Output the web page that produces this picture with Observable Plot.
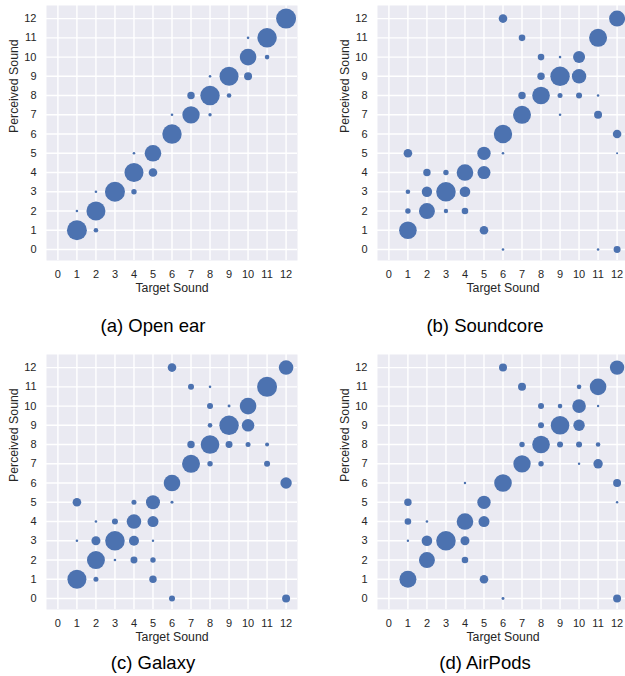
<!DOCTYPE html>
<html>
<head>
<meta charset="utf-8">
<script src="https://cdn.jsdelivr.net/npm/d3@7"></script>
<script src="https://cdn.jsdelivr.net/npm/@observablehq/plot@0.6"></script>
<style>
  html, body { margin: 0; padding: 0; background: #ffffff; }
  #root { position: relative; width: 625px; height: 676px; overflow: hidden; background: #fff; font-family: "Liberation Sans", Arial, Helvetica, sans-serif; }
  .panel { position: absolute; width: 310px; }
  .panel svg { max-width: none !important; }
  .caption { position: absolute; width: 240px; text-align: center; font-size: 18.5px; line-height: 1; color: #000; white-space: nowrap; }
</style>
</head>
<body>
<div id="root"></div>
<script>
// Tick values for both axes (sound index 0..12)
const ticks = [0,1,2,3,4,5,6,7,8,9,10,11,12];
const captions = ["(a) Open ear", "(b) Soundcore", "(c) Galaxy", "(d) AirPods"];
const xLabel = "Target Sound";
const yLabel = "Perceived Sound";

// [target, perceived, share of responses (%)]
const openEar = [
  [1,1,94],[1,2,1.6],[2,1,5],[2,2,85],[2,3,1.6],[3,3,94],[4,3,6.9],[4,4,85],[4,5,1.6],
  [5,4,17.4],[5,5,65],[6,6,89],[6,7,1.6],[7,7,71],[7,8,13],[8,7,2.7],[8,8,89],[8,9,1.6],
  [9,8,5],[9,9,85],[10,9,15],[10,10,65],[10,11,1.6],[11,10,5],[11,11,89],[12,12,94]
];
const soundcore = [
  [1,1,73],[1,2,6.9],[1,3,5],[1,5,17.4],[2,2,60],[2,3,25.5],[2,4,13],[3,2,4.6],[3,3,90],
  [3,4,6.9],[4,2,10.3],[4,3,26.5],[4,4,65],[5,1,17.4],[5,4,40],[5,5,42],[6,0,1.6],[6,5,1.6],
  [6,6,80],[6,12,17.4],[7,7,76],[7,8,13],[7,11,10.3],[8,8,73],[8,9,13],[8,10,10.3],[9,7,1.6],
  [9,8,5.9],[9,9,89],[9,10,1.6],[10,8,8.5],[10,9,49],[10,10,34],[11,0,1.6],[11,7,15],[11,8,1.6],
  [11,11,76],[12,0,11.5],[12,5,1],[12,6,17.4],[12,12,60]
];
const galaxy = [
  [1,1,85],[1,3,1.6],[1,5,17.4],[2,1,5.9],[2,2,76],[2,3,19],[2,4,1.6],[3,2,1.6],[3,3,90],
  [3,4,8.5],[4,2,11.5],[4,3,23.6],[4,4,50],[4,5,5.9],[5,1,13],[5,2,6.9],[5,3,1.4],[5,4,28.5],
  [5,5,46],[6,0,8.5],[6,5,2.1],[6,6,65],[6,12,17.4],[7,7,76],[7,8,13],[7,11,8.5],[8,7,6.9],
  [8,8,81.5],[8,9,5],[8,10,8.5],[8,11,1.6],[9,8,11.5],[9,9,89],[9,10,2.1],[10,8,5.9],[10,9,37],
  [10,10,65],[11,7,8.5],[11,8,3.8],[11,11,94],[12,0,15],[12,6,30.6],[12,12,50]
];
const airPods = [
  [1,1,68],[1,3,1.4],[1,4,10.3],[1,5,13],[2,2,60],[2,3,26.5],[2,4,1.6],[3,3,90],[4,2,10.3],
  [4,3,19],[4,4,65],[4,6,1.4],[5,1,17.4],[5,4,28.5],[5,5,42],[6,0,2.1],[6,6,73],[6,12,15],
  [7,7,71],[7,8,6.9],[7,11,15],[8,7,6.9],[8,8,73],[8,9,8.5],[8,10,8.5],[9,8,8.5],[9,9,81.5],
  [9,10,5],[10,7,1.4],[10,8,8.5],[10,9,30.6],[10,10,43.6],[10,11,5],[11,7,20.8],[11,8,5],
  [11,10,1.4],[11,11,65],[12,0,15],[12,5,1.4],[12,6,15],[12,12,49]
];

const datasets = [openEar, soundcore, galaxy, airPods];
const positions = [[0,0],[331,0],[0,349],[331,349]];
const captionCenters = [[153,317],[485,317],[153,654],[485,654]];

const root = document.getElementById("root");
const FONT = '"Liberation Sans", Arial, Helvetica, sans-serif';

datasets.forEach((data, i) => {
  const chart = Plot.plot({
    width: 310,
    height: 296,
    marginLeft: 46,
    marginRight: 13,
    marginTop: 5,
    marginBottom: 36,
    style: { background: "transparent", fontFamily: FONT, fontSize: "11px", color: "#262626" },
    x: { domain: [-0.6, 12.6] },
    y: { domain: [-0.57, 12.68] },
    r: { type: "sqrt", domain: [0, 100], range: [0, 10.3] },
    marks: [
      Plot.frame({ fill: "#EAEAF2", stroke: null }),
      Plot.gridX(ticks, { stroke: "#ffffff", strokeOpacity: 1, strokeWidth: 1.4 }),
      Plot.gridY(ticks, { stroke: "#ffffff", strokeOpacity: 1, strokeWidth: 1.4 }),
      Plot.dot(data, { x: d => d[0], y: d => d[1], r: d => d[2], fill: "#4C72B0", stroke: null }),
      Plot.axisX(ticks, { tickSize: 0, tickPadding: 10, label: null, fontSize: 11 }),
      Plot.axisY(ticks, { tickSize: 0, tickPadding: 10, label: null, fontSize: 11 }),
      Plot.text([xLabel], { frameAnchor: "bottom", lineAnchor: "middle", dy: 28, fontSize: 12.3, fill: "#262626" }),
      Plot.text([yLabel], { frameAnchor: "left", lineAnchor: "middle", rotate: -90, dx: -32, fontSize: 12.3, fill: "#262626" })
    ]
  });
  const wrap = document.createElement("div");
  wrap.className = "panel";
  wrap.style.left = positions[i][0] + "px";
  wrap.style.top = positions[i][1] + "px";
  wrap.appendChild(chart);
  root.appendChild(wrap);

  const cap = document.createElement("div");
  cap.className = "caption";
  cap.textContent = captions[i];
  cap.style.left = (captionCenters[i][0] - 120) + "px";
  cap.style.top = captionCenters[i][1] + "px";
  root.appendChild(cap);
});
</script>
</body>
</html>
